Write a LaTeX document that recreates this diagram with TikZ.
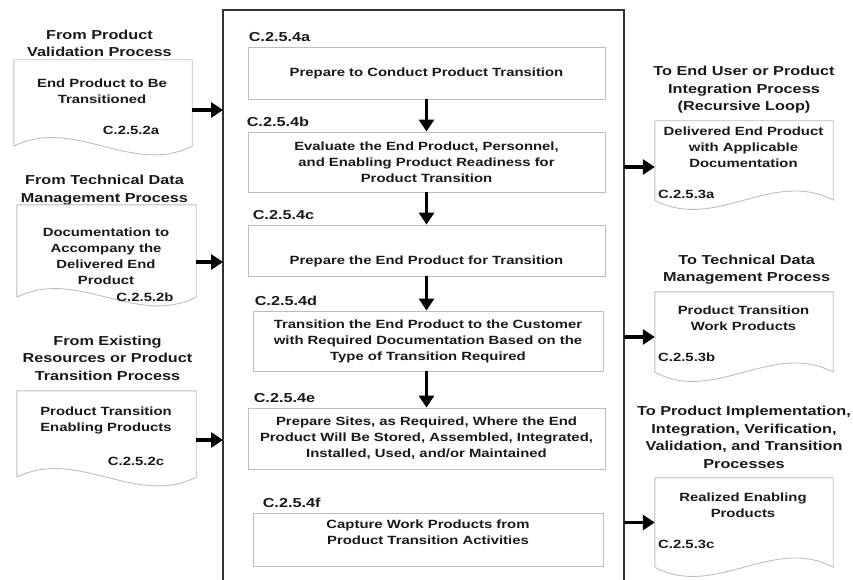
\documentclass[tikz,border=0pt]{standalone}
\usepackage{fontspec}
\setmainfont[FakeStretch=1.25]{Liberation Sans}
\usepackage{tikz}
\usetikzlibrary{arrows.meta,calc,positioning}
\definecolor{boxgray}{rgb}{0.74,0.74,0.74}
\definecolor{framegray}{rgb}{0.2,0.2,0.2}
\definecolor{inkgray}{rgb}{0.1,0.1,0.1}

\begin{document}
\begin{tikzpicture}[x=1pt,y=-1pt,
    txt/.style={inner sep=0pt, align=center, text=inkgray, font=\fontsize{11.9}{16}\selectfont\bfseries},
    head/.style={inner sep=0pt, align=center, text=inkgray, font=\fontsize{13}{17.5}\selectfont\bfseries},
    stepcode/.style={inner sep=0pt, text=inkgray, font=\fontsize{13}{17.5}\selectfont\bfseries},
    stepbox/.style={draw=boxgray, line width=0.9pt, minimum width=357pt, minimum height=#1, inner sep=0pt,
      align=center, text=inkgray, font=\fontsize{11.9}{16}\selectfont\bfseries},
    docbox/.style={minimum width=178pt, minimum height=#1, inner sep=0pt},
    docline/.style={draw=boxgray, line width=0.9pt, line join=round},
    flow/.style={line width=3.3pt, draw=black, -{Triangle[length=12pt,width=15pt]}},
  ]
        \useasboundingbox (0,0) rectangle (853,580);
        %Frame
        \coordinate (frameL) at (223,10);
        \coordinate (frameR) at (624,10);
        \draw[framegray, line width=1.6pt] (223,585) -- (frameL) -- (frameR) -- (624,585);
        %Steps
        \node[stepbox=52pt] (stepA) at (426.5,73) {Prepare to Conduct Product Transition};
        \node[stepbox=60pt] (stepB) at (426.5,162) {Evaluate the End Product, Personnel,\\and Enabling Product Readiness for\\Product Transition};
        \node[stepbox=51pt] (stepC) at (426.5,250.5) {};
        \node[txt] (stepCtext) at (426.5,261) {Prepare the End Product for Transition};
        \node[stepbox=60pt, minimum width=350pt] (stepD) at (428,341) {Transition the End Product to the Customer\\with Required Documentation Based on the\\Type of Transition Required};
        \node[stepbox=61pt] (stepE) at (426.5,438.5) {Prepare Sites, as Required, Where the End\\Product Will Be Stored, Assembled, Integrated,\\Installed, Used, and/or Maintained};
        \node[stepbox=53pt, minimum width=350pt] (stepF) at (428,539.5) {};
        \node[txt] (stepFtext) at (428,532) {Capture Work Products from\\Product Transition Activities};
        %Step codes
        \node[stepcode, above right=5pt and 1pt of stepA.north west] (codeA) {C.2.5.4a};
        \node[stepcode, above right=5pt and -1pt of stepB.north west] (codeB) {C.2.5.4b};
        \node[stepcode, above right=5pt and 5pt of stepC.north west] (codeC) {C.2.5.4c};
        \node[stepcode, above right=5pt and 2pt of stepD.north west] (codeD) {C.2.5.4d};
        \node[stepcode, above right=5pt and 6pt of stepE.north west] (codeE) {C.2.5.4e};
        \node[stepcode, above right=5pt and 10pt of stepF.north west] (codeF) {C.2.5.4f};
        %Step arrows
        \draw[flow] (stepA.south) -- (stepB.north);
        \draw[flow] (stepB.south) -- (stepC.north);
        \draw[flow] (stepC.south) -- (stepC.south |- stepD.north);
        \draw[flow] (stepD.south -| stepC.south) -- (stepE.north);
        %Inputs
        \node[head] (fromA) at (99.5,43.5) {From Product\\Validation Process};
        \node[head] (fromB) at (104.5,190) {From Technical Data\\Management Process};
        \node[head] (fromC) at (107.5,358) {From Existing\\Resources or Product\\Transition Process};
        \node[docbox=86pt] (inA) at (103,103) {};
        \node[docbox=92pt, minimum width=179pt] (inB) at (106.5,251) {};
        \node[docbox=86pt, minimum width=179pt] (inC) at (106.5,434) {};
        \foreach \d in {inA,inB,inC}
          \draw[docline] (\d.south west) -- (\d.north west) -- (\d.north east) -- (\d.south east)
            .. controls +(-60,30) and +(60,-30) .. (\d.south west);
        \node[txt] (inAtext) at (102,91) {End Product to Be\\Transitioned};
        \node[txt] (inAcode) at (131,130) {C.2.5.2a};
        \node[txt] (inBtext) at (106,256.5) {Documentation to\\Accompany the\\Delivered End\\Product};
        \node[txt] (inBcode) at (145,297) {C.2.5.2b};
        \node[txt] (inCtext) at (106,420.5) {Product Transition\\Enabling Products};
        \node[txt] (inCcode) at (136,461) {C.2.5.2c};
        %Outputs
        \node[head] (toA) at (744,90) {To End User or Product\\Integration Process\\(Recursive Loop)};
        \node[head] (toB) at (746.7,269.5) {To Technical Data\\Management Process};
        \node[head] (toC) at (744,437.5) {To Product Implementation,\\Integration, Verification,\\Validation, and Transition\\Processes};
        \node[docbox=79pt] (outA) at (744,160.5) {};
        \node[docbox=80pt] (outB) at (744,332) {};
        \node[docbox=89pt] (outC) at (744,522.5) {};
        \foreach \d in {outA,outB,outC}
          \draw[docline] (\d.south west) -- (\d.north west) -- (\d.north east) -- (\d.south east)
            .. controls +(-60,-32) and +(60,32) .. (\d.south west);
        \node[txt] (outAtext) at (743.5,147.7) {Delivered End Product\\with Applicable\\Documentation};
        \node[txt, anchor=west] (outAcode) at (658,194) {C.2.5.3a};
        \node[txt] (outBtext) at (743.5,318) {Product Transition\\Work Products};
        \node[txt, anchor=west] (outBcode) at (658,357) {C.2.5.3b};
        \node[txt] (outCtext) at (743,505) {Realized Enabling\\Products};
        \node[txt, anchor=west] (outCcode) at (658,544) {C.2.5.3c};
        %Flow arrows
        \coordinate (inAend) at ([yshift=-7pt]inA.east);
        \coordinate (inBend) at ([yshift=-11pt]inB.east);
        \coordinate (inCend) at ([yshift=-6pt]inC.east);
        \coordinate (outAend) at ([yshift=-6.5pt]outA.west);
        \coordinate (outBend) at ([yshift=-5pt]outB.west);
        \coordinate (outCend) at (outC.west);
        \draw[flow] (inAend) -- (inAend -| frameL);
        \draw[flow] (inBend) -- (inBend -| frameL);
        \draw[flow] (inCend) -- (inCend -| frameL);
        \draw[flow] (outAend -| frameR) -- (outAend);
        \draw[flow] (outBend -| frameR) -- (outBend);
        \draw[flow] (outCend -| frameR) -- (outCend);
\end{tikzpicture}
\end{document}
